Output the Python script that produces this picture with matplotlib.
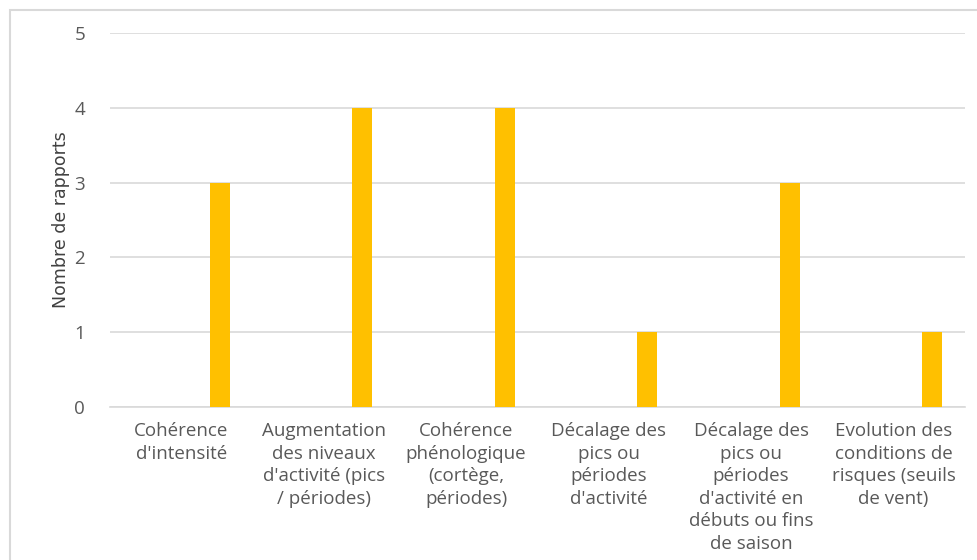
import matplotlib.pyplot as plt
from matplotlib.patches import Rectangle
import numpy as np

categories = [
    "Cohérence\nd'intensité",
    "Augmentation\ndes niveaux\nd'activité (pics\n/ périodes)",
    "Cohérence\nphénologique\n(cortège,\npériodes)",
    "Décalage des\npics ou\npériodes\nd'activité",
    "Décalage des\npics ou\npériodes\nd'activité en\ndébuts ou fins\nde saison",
    "Evolution des\nconditions de\nrisques (seuils\nde vent)",
]
values = [3, 4, 4, 1, 3, 1]
yticks = [0, 1, 2, 3, 4, 5]

plt.rcParams['font.family'] = ['Open Sans', 'DejaVu Sans']

fig = plt.figure(figsize=(9.78, 5.6), dpi=100)
ax = fig.add_axes([0.1125, 0.2732, 0.874, 0.668])

x = np.arange(len(categories))
ax.bar(x + 0.27, values, width=0.14, color='#FFC000', zorder=3)

ax.set_xlim(-0.5, len(categories) - 0.5)
ax.set_ylim(0, 5)
ax.set_yticks(yticks)
ax.set_xticks(x)
ax.set_xticklabels(categories, fontsize=13.5, color='#595959', linespacing=1.32)
ax.tick_params(axis='y', labelsize=13.5, labelcolor='#595959', length=0, pad=18)
ax.tick_params(axis='x', length=0, pad=11)
ax.grid(axis='y', color='#d9d9d9', linewidth=1.2, zorder=0)
for s in ['top', 'right', 'left']:
    ax.spines[s].set_visible(False)
ax.spines['bottom'].set_color('#d9d9d9')
ax.spines['bottom'].set_linewidth(1.2)

ax.set_ylabel('Nombre de rapports', fontsize=12.5, color='#404040',
              family=['Liberation Sans Narrow', 'DejaVu Sans'], labelpad=3)

fig.patches.append(Rectangle((10 / 978, -0.1), 1.2, 1 - 10 / 560 + 0.1,
                             transform=fig.transFigure, fill=False,
                             edgecolor='#d9d9d9', linewidth=1.5))

fig.savefig('out.png', dpi=100)
